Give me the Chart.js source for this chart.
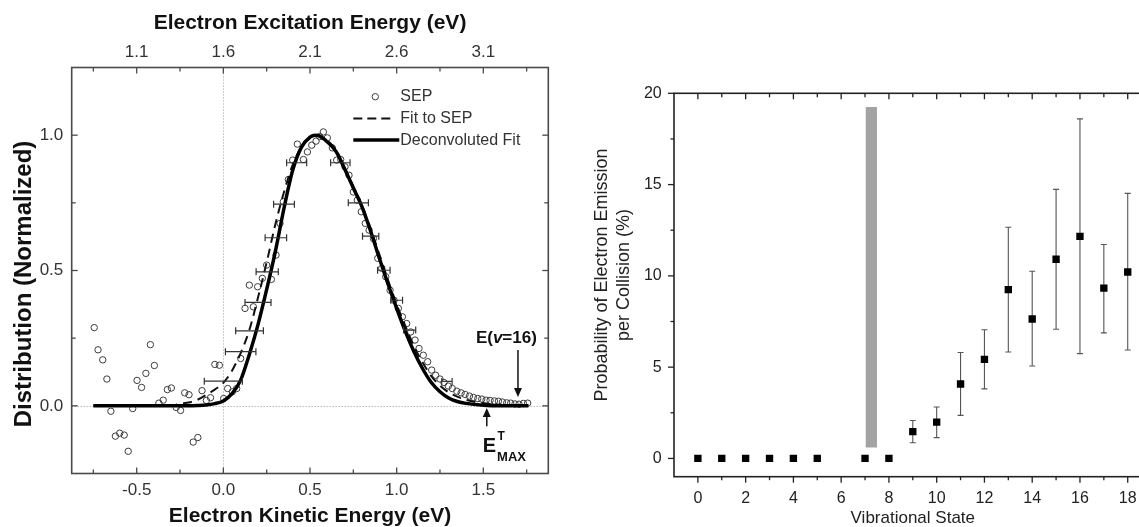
<!DOCTYPE html>
<html><head><meta charset="utf-8">
<script src="https://cdn.jsdelivr.net/npm/chart.js@4.4.1/dist/chart.umd.min.js"></script>
<style>
html,body{margin:0;padding:0;background:#fff;overflow:hidden;width:1139px;height:527px;position:relative;}
#left{position:absolute;left:0;top:0;}
#right{position:absolute;left:590px;top:0;}
</style></head><body>
<canvas id="left" width="580" height="527"></canvas>
<canvas id="right" width="580" height="527"></canvas>
<script>
const FONT = "'Liberation Sans', Arial, Helvetica, sans-serif";

// ---------- Left panel data ----------
const SEP_X = [-0.745,-0.723,-0.696,-0.672,-0.649,-0.623,-0.598,-0.572,-0.549,-0.523,-0.498,-0.472,-0.447,-0.421,-0.398,-0.372,-0.347,-0.323,-0.300,-0.272,-0.247,-0.223,-0.198,-0.174,-0.147,-0.123,-0.098,-0.074,-0.049,-0.023,0.002,0.025,0.052,0.077,0.100,0.125,0.150,0.173,0.198,0.225,0.250,0.277,0.304,0.327,0.346,0.375,0.400,0.427,0.462,0.485,0.510,0.535,0.556,0.577,0.600,0.629,0.654,0.677,0.702,0.725,0.750,0.773,0.796,0.819,0.841,0.866,0.891,0.914,0.937,0.962,0.985,1.010,1.033,1.058,1.081,1.106,1.129,1.154,1.179,1.202,1.225,1.250,1.273,1.298,1.321,1.347,1.372,1.395,1.420,1.443,1.468,1.491,1.516,1.539,1.564,1.587,1.610,1.635,1.658,1.683,1.706,1.731,1.756];
const SEP_Y = [0.289,0.207,0.170,0.099,-0.020,-0.112,-0.101,-0.108,-0.168,-0.010,0.094,0.068,0.120,0.226,0.149,0.010,0.021,0.060,0.066,-0.006,-0.017,0.048,0.041,-0.134,-0.117,0.056,0.020,0.030,0.153,0.150,0.027,0.064,0.052,0.064,0.175,0.360,0.446,0.366,0.440,0.471,0.520,0.467,0.557,0.674,0.754,0.836,0.908,0.967,0.910,0.938,0.963,0.978,0.995,1.012,0.990,0.953,0.908,0.910,0.883,0.852,0.790,0.760,0.717,0.674,0.649,0.618,0.545,0.508,0.477,0.427,0.390,0.360,0.329,0.304,0.273,0.243,0.212,0.187,0.163,0.132,0.113,0.099,0.086,0.073,0.064,0.054,0.048,0.042,0.036,0.031,0.027,0.025,0.021,0.020,0.018,0.017,0.014,0.011,0.010,0.007,0.006,0.009,0.010];

const FIT_X     = [-0.75,-0.5,-0.3,-0.25,-0.2,-0.15,-0.1,-0.05,0,0.05,0.1,0.15,0.2,0.25,0.3,0.35,0.4,0.45,0.5,0.53,0.55,0.6,0.65,0.7,0.75,0.8,0.85,0.9,0.95,1.0,1.05,1.1,1.15,1.2,1.25,1.3,1.35,1.4,1.5,1.6,1.76];
const FIT_SEP_Y = [0,0,0,0.008,0.012,0.022,0.04,0.06,0.085,0.13,0.195,0.28,0.40,0.53,0.67,0.79,0.89,0.955,0.99,1.0,0.998,0.98,0.945,0.88,0.81,0.74,0.655,0.56,0.465,0.375,0.295,0.22,0.16,0.11,0.075,0.05,0.034,0.022,0.01,0.004,0.001];
const DECONV_Y  = [0,0,0,0,0,0.001,0.003,0.008,0.018,0.045,0.095,0.19,0.30,0.43,0.57,0.73,0.87,0.955,0.993,1.0,0.998,0.975,0.94,0.875,0.805,0.735,0.645,0.545,0.45,0.36,0.275,0.20,0.137,0.086,0.052,0.029,0.016,0.009,0.002,0,0];

const XERR_X  = [0.0,0.10,0.151,0.20,0.253,0.303,0.35,0.423,0.675,0.779,0.85,0.926,1.0,1.075,1.29];
const XERR_Y  = [0.091,0.20,0.277,0.382,0.495,0.621,0.745,0.898,0.898,0.75,0.627,0.501,0.39,0.28,0.09];
const XERR_HW = [0.11,0.088,0.08,0.075,0.064,0.062,0.06,0.058,0.056,0.058,0.047,0.036,0.034,0.035,0.03];

const LEFT_X_TICKS = [-0.75,-0.5,-0.25,0,0.25,0.5,0.75,1,1.25,1.5,1.75];
const BOTTOM_LABEL_VALUES = [-0.5,0,0.5,1,1.5];
const BOTTOM_LABELS = ['-0.5','0.0','0.5','1.0','1.5'];
const TOP_LABELS = ['1.1','1.6','2.1','2.6','3.1'];
const LEFT_Y_TICKS = [0,0.25,0.5,0.75,1];
const LEFT_Y_LABEL_VALUES = [0,0.5,1];
const LEFT_Y_LABELS = ['0.0','0.5','1.0'];
const E_V16_X = 1.70, E_MAX_X = 1.52;

// ---------- Right panel data ----------
const STATES   = [0,1,2,3,4,5,7,8,9,10,11,12,13,14,15,16,17,18];
const PROB     = [0,0,0,0,0,0,0,0,1.47,1.99,4.08,5.43,9.25,7.64,10.91,12.16,9.33,10.21];
const ERR_LOW  = [null,null,null,null,null,null,null,null,0.86,1.14,2.36,3.81,5.83,5.06,7.08,5.74,6.88,5.94];
const ERR_HIGH = [null,null,null,null,null,null,null,null,2.08,2.82,5.80,7.05,12.66,10.25,14.74,18.6,11.72,14.52];
const BAND_X = [7.03,7.5];
const BAND_Y = [0.6,19.25];
const RIGHT_X_TICKS = [0,1,2,3,4,5,6,7,8,9,10,11,12,13,14,15,16,17,18];
const RIGHT_X_LABEL_VALUES = [0,2,4,6,8,10,12,14,16,18];
const RIGHT_X_LABELS = ['0','2','4','6','8','10','12','14','16','18'];
const RIGHT_Y_TICKS = [0,2.5,5,7.5,10,12.5,15,17.5,20];
const RIGHT_Y_LABEL_VALUES = [0,5,10,15,20];
const RIGHT_Y_LABELS = ['0','5','10','15','20'];

function near(v, w){ return Math.abs(v - w) < 1e-6; }
function lookup(v, vals, labels){ for (let i=0;i<vals.length;i++) if (near(v, vals[i])) return labels[i]; return ''; }
function setTicks(arr){ return s => { s.ticks = arr.map(v => ({value:v})); }; }

function drawTicks(ctx, scale, side, inward, majorLen, minorLen){
  const a = scale.chart.chartArea;
  for (const t of scale.ticks){
    const major = t.label !== '' && t.label != null;
    const len = major ? majorLen : minorLen;
    const p = scale.getPixelForValue(t.value);
    ctx.beginPath();
    if (side==='bottom'){ ctx.moveTo(p,a.bottom); ctx.lineTo(p, inward? a.bottom-len : a.bottom+len); }
    else if (side==='top'){ ctx.moveTo(p,a.top); ctx.lineTo(p, inward? a.top+len : a.top-len); }
    else if (side==='left'){ ctx.moveTo(a.left,p); ctx.lineTo(inward? a.left+len : a.left-len, p); }
    else { ctx.moveTo(a.right,p); ctx.lineTo(inward? a.right-len : a.right+len, p); }
    ctx.stroke();
  }
}
function arrow(ctx, x, y1, y2){
  const dir = y2 > y1 ? 1 : -1;
  ctx.beginPath(); ctx.moveTo(x,y1); ctx.lineTo(x,y2 - dir*8); ctx.stroke();
  ctx.beginPath(); ctx.moveTo(x,y2); ctx.lineTo(x-4,y2-dir*9); ctx.lineTo(x+4,y2-dir*9); ctx.closePath(); ctx.fill();
}
function vText(ctx, lines, x0, dx, cy, font, color){
  ctx.save();
  ctx.font = font; ctx.fillStyle = color; ctx.textAlign='center'; ctx.textBaseline='middle';
  lines.forEach((t,i)=>{ ctx.save(); ctx.translate(x0 + i*dx, cy); ctx.rotate(-Math.PI/2); ctx.fillText(t,0,0); ctx.restore(); });
  ctx.restore();
}

const leftPlugin = {
  id:'leftDecor',
  beforeDatasetsDraw(chart){
    const {ctx, chartArea:a, scales:{x,y}} = chart;
    ctx.save();
    ctx.strokeStyle='#9a9a9a'; ctx.lineWidth=1; ctx.setLineDash([1,2]);
    const x0 = Math.round(x.getPixelForValue(0))+0.5;
    ctx.beginPath(); ctx.moveTo(x0,a.top); ctx.lineTo(x0,a.bottom); ctx.stroke();
    const y0 = Math.round(y.getPixelForValue(0))+0.5;
    ctx.beginPath(); ctx.moveTo(a.left,y0); ctx.lineTo(a.right,y0); ctx.stroke();
    ctx.restore();
  },
  afterDatasetsDraw(chart){
    const {ctx, chartArea:a, scales:{x,y,xTop}} = chart;
    ctx.save();
    ctx.strokeStyle='#333'; ctx.lineWidth=1.2;
    for (let i=0;i<XERR_X.length;i++){
      const yc = y.getPixelForValue(XERR_Y[i]);
      const xl = x.getPixelForValue(XERR_X[i]-XERR_HW[i]);
      const xr = x.getPixelForValue(XERR_X[i]+XERR_HW[i]);
      ctx.beginPath(); ctx.moveTo(xl,yc); ctx.lineTo(xr,yc);
      ctx.moveTo(xl,yc-3.5); ctx.lineTo(xl,yc+3.5);
      ctx.moveTo(xr,yc-3.5); ctx.lineTo(xr,yc+3.5); ctx.stroke();
    }
    ctx.strokeStyle='#4a4a4a'; ctx.lineWidth=1.6;
    ctx.strokeRect(a.left,a.top,a.right-a.left,a.bottom-a.top);
    ctx.lineWidth=1.3;
    drawTicks(ctx,x,'bottom',true,6,4);
    drawTicks(ctx,xTop,'top',true,6,4);
    drawTicks(ctx,y,'left',true,6,4);
    drawTicks(ctx,y,'right',true,6,4);
    // legend
    const lx = a.right - 195, ly = a.top + 29.2, dy = 21.7;
    ctx.fillStyle='#333'; ctx.font='16px '+FONT; ctx.textBaseline='middle'; ctx.textAlign='left';
    ctx.strokeStyle='#3c3c3c'; ctx.lineWidth=1;
    ctx.beginPath(); ctx.arc(lx+22,ly,3.2,0,Math.PI*2); ctx.stroke();
    ctx.fillText('SEP', lx+47, ly);
    ctx.strokeStyle='#111'; ctx.lineWidth=2; ctx.setLineDash([9,5]);
    ctx.beginPath(); ctx.moveTo(lx,ly+dy); ctx.lineTo(lx+37,ly+dy); ctx.stroke();
    ctx.setLineDash([]);
    ctx.fillText('Fit to SEP', lx+47, ly+dy);
    ctx.strokeStyle='#000'; ctx.lineWidth=3.5;
    ctx.beginPath(); ctx.moveTo(lx,ly+2*dy); ctx.lineTo(lx+46,ly+2*dy); ctx.stroke();
    ctx.fillText('Deconvoluted Fit', lx+47, ly+2*dy);
    // E(v=16)
    ctx.fillStyle='#111'; ctx.strokeStyle='#111'; ctx.lineWidth=1.5;
    const ax = x.getPixelForValue(E_V16_X);
    arrow(ctx, ax, y.getPixelForValue(0.206), y.getPixelForValue(0.033));
    const parts = [['E(','bold 17px '+FONT],['v','italic bold 17px '+FONT],['=16)','bold 17px '+FONT]];
    let tw = 0; for (const p of parts){ ctx.font=p[1]; tw += ctx.measureText(p[0]).width; }
    let tx = ax - 11.6 - tw/2; const ty = y.getPixelForValue(0.25);
    for (const p of parts){ ctx.font=p[1]; ctx.fillText(p[0],tx,ty); tx += ctx.measureText(p[0]).width; }
    // E_MAX^T
    const bx = x.getPixelForValue(E_MAX_X);
    arrow(ctx, bx, y.getPixelForValue(-0.075), y.getPixelForValue(-0.008));
    ctx.textBaseline='alphabetic';
    ctx.font='bold 20px '+FONT; ctx.fillText('E', bx-4, 451.5);
    const ew = ctx.measureText('E').width;
    ctx.font='bold 12px '+FONT; ctx.fillText('T', bx-4+ew+1.5, 439.5);
    ctx.font='bold 13px '+FONT; ctx.fillText('MAX', bx-4+ew+1, 461);
    ctx.restore();
    vText(ctx, ['Distribution (Normalized)'], 24, 0, 284, 'bold 24px '+FONT, '#111');
  }
};

const axisTitleFont = {family:FONT, size:21, weight:'bold', lineHeight:1};
const tickFontL = {family:FONT, size:17};

new Chart(document.getElementById('left'), {
  type:'line',
  data:{datasets:[
    {label:'Deconvoluted Fit', data:FIT_X.map((v,i)=>({x:v,y:DECONV_Y[i]})), borderColor:'#000', borderWidth:3.5, pointRadius:0, pointHoverRadius:0, cubicInterpolationMode:'monotone', fill:false},
    {label:'Fit to SEP', data:FIT_X.map((v,i)=>({x:v,y:FIT_SEP_Y[i]})), borderColor:'#111', borderWidth:2, borderDash:[9,6], pointRadius:0, pointHoverRadius:0, cubicInterpolationMode:'monotone', fill:false},
    {label:'SEP', data:SEP_X.map((v,i)=>({x:v,y:SEP_Y[i]})), showLine:false, pointStyle:'circle', pointRadius:3.2, pointHoverRadius:3.2, pointBorderWidth:1, pointBorderColor:'#3c3c3c', pointBackgroundColor:'rgba(255,255,255,0)'}
  ]},
  options:{
    responsive:false, animation:false, devicePixelRatio:1,
    layout:{padding:{right:31.7}},
    plugins:{legend:{display:false}, tooltip:{enabled:false}},
    scales:{
      x:{type:'linear', position:'bottom', min:-0.875, max:1.875,
        grid:{display:false, drawTicks:false}, border:{display:false},
        afterBuildTicks:setTicks(LEFT_X_TICKS),
        ticks:{autoSkip:false, maxRotation:0, minRotation:0, padding:6.3, color:'#333', font:tickFontL,
          callback:v=>lookup(v,BOTTOM_LABEL_VALUES,BOTTOM_LABELS)},
        title:{display:true, text:'Electron Kinetic Energy (eV)', color:'#111', font:axisTitleFont, padding:{top:0,bottom:0.5}},
        afterFit:s=>{s.height=53.5;}},
      xTop:{type:'linear', position:'top', min:-0.875, max:1.875,
        grid:{display:false, drawTicks:false}, border:{display:false},
        afterBuildTicks:setTicks(LEFT_X_TICKS),
        ticks:{autoSkip:false, maxRotation:0, minRotation:0, padding:5.3, color:'#333', font:tickFontL,
          callback:v=>lookup(v,BOTTOM_LABEL_VALUES,TOP_LABELS)},
        title:{display:true, text:'Electron Excitation Energy (eV)', color:'#111', font:axisTitleFont, padding:{top:13,bottom:0}},
        afterFit:s=>{s.height=67.5;}},
      y:{type:'linear', position:'left', min:-0.25, max:1.25,
        grid:{display:false, drawTicks:false}, border:{display:false},
        afterBuildTicks:setTicks(LEFT_Y_TICKS),
        ticks:{autoSkip:false, padding:8.4, color:'#333', font:tickFontL,
          callback:v=>lookup(v,LEFT_Y_LABEL_VALUES,LEFT_Y_LABELS)},
        title:{display:false},
        afterFit:s=>{s.width=71.7;}}
    }
  },
  plugins:[leftPlugin]
});

const rightPlugin = {
  id:'rightDecor',
  beforeDatasetsDraw(chart){
    const {ctx, scales:{x,y}} = chart;
    ctx.save();
    const bx0=x.getPixelForValue(BAND_X[0]), bx1=x.getPixelForValue(BAND_X[1]);
    const by0=y.getPixelForValue(BAND_Y[0]), by1=y.getPixelForValue(BAND_Y[1]);
    ctx.fillStyle='#a3a3a3'; ctx.fillRect(bx0,by1,bx1-bx0,by0-by1);
    ctx.strokeStyle='#555'; ctx.lineWidth=1.1;
    for (let i=0;i<STATES.length;i++){
      if (ERR_LOW[i]==null) continue;
      const px=x.getPixelForValue(STATES[i]);
      const lo=y.getPixelForValue(ERR_LOW[i]), hi=y.getPixelForValue(ERR_HIGH[i]);
      ctx.beginPath(); ctx.moveTo(px,lo); ctx.lineTo(px,hi);
      ctx.moveTo(px-3,lo); ctx.lineTo(px+3,lo);
      ctx.moveTo(px-3,hi); ctx.lineTo(px+3,hi); ctx.stroke();
    }
    ctx.restore();
  },
  afterDatasetsDraw(chart){
    const {ctx, chartArea:a, scales:{x,y}} = chart;
    ctx.save();
    ctx.strokeStyle='#222'; ctx.lineWidth=1.6;
    ctx.strokeRect(a.left,a.top,a.right-a.left,a.bottom-a.top);
    ctx.lineWidth=1.3;
    drawTicks(ctx,x,'bottom',false,6,3.5);
    drawTicks(ctx,x,'top',true,6,4);
    drawTicks(ctx,y,'left',false,6,3.5);
    ctx.restore();
    vText(ctx, ['Probability of Electron Emission','per Collision (%)'], 12, 22, 275, '18px '+FONT, '#222');
  }
};

const tickFontR = {family:FONT, size:16};
new Chart(document.getElementById('right'), {
  type:'line',
  data:{datasets:[
    {label:'Probability', data:STATES.map((v,i)=>({x:v,y:PROB[i]})), showLine:false, pointStyle:'rect', pointRadius:5.2, pointHoverRadius:5.2, pointBackgroundColor:'#000', pointBorderColor:'#000', pointBorderWidth:0}
  ]},
  options:{
    responsive:false, animation:false, devicePixelRatio:1,
    layout:{padding:{top:93.3, right:18.4}},
    plugins:{legend:{display:false}, tooltip:{enabled:false}},
    scales:{
      x:{type:'linear', position:'bottom', min:-1, max:19,
        grid:{display:false, drawTicks:false}, border:{display:false},
        afterBuildTicks:setTicks(RIGHT_X_TICKS),
        ticks:{autoSkip:false, maxRotation:0, minRotation:0, padding:12.3, color:'#222', font:tickFontR,
          callback:v=>lookup(v,RIGHT_X_LABEL_VALUES,RIGHT_X_LABELS)},
        title:{display:true, text:'Vibrational State', color:'#222', font:{family:FONT,size:17,lineHeight:1}, padding:{top:0,bottom:0}},
        afterFit:s=>{s.height=50.3;}},
      y:{type:'linear', position:'left', min:-1, max:20,
        grid:{display:false, drawTicks:false}, border:{display:false},
        afterBuildTicks:setTicks(RIGHT_Y_TICKS),
        ticks:{autoSkip:false, padding:12.3, color:'#222', font:tickFontR,
          callback:v=>lookup(v,RIGHT_Y_LABEL_VALUES,RIGHT_Y_LABELS)},
        title:{display:false},
        afterFit:s=>{s.width=84;}}
    }
  },
  plugins:[rightPlugin]
});
</script>
</body></html>
